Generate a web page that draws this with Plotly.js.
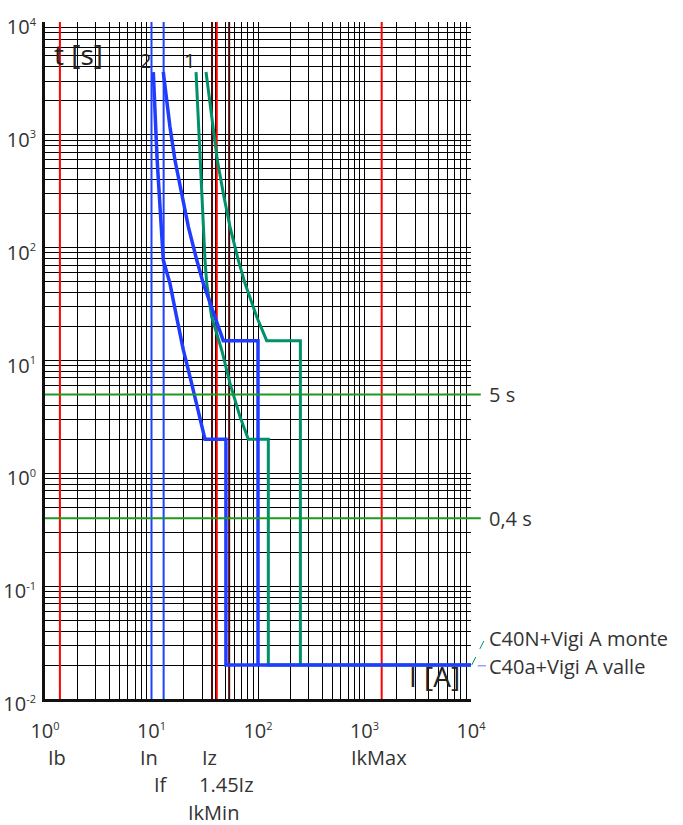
<!DOCTYPE html>
<html>
<head>
<meta charset="utf-8">
<script src="https://cdn.plot.ly/plotly-3.0.1.min.js"></script>
<style>html,body{margin:0;padding:0;background:#fff;}#chart{width:683px;height:825px;}</style>
</head>
<body>
<div id="chart"></div>
<script>
// ---- data ----
// curve 1 : C40N + Vigi A (monte), green
const greenMinI = [26.2, 28.5, 31.8, 33.0, 36.7, 45.6, 54.6, 67.8, 81.1, 125, 125, 10000];
const greenMinT = [3600, 598, 77.6, 48.3, 24.4, 12.4, 6.26, 3.17, 2, 2, 0.02, 0.02];
const greenMaxI = [32.5, 37.6, 41.5, 47.2, 54.6, 65.3, 75.5, 97.2, 120.7, 250, 250];
const greenMaxT = [3600, 1180, 598, 303, 153, 77.6, 48.3, 24.4, 15, 15, 0.02];
// curve 2 : C40a + Vigi A (valle), blue
const blueMinI = [10.4, 11.3, 12.9, 14.9, 17.2, 19.9, 23.8, 28.5, 31.8, 50, 50, 10000];
const blueMinT = [3600, 598, 77.6, 48.3, 24.4, 12.4, 6.26, 3.17, 2, 2, 0.02, 0.02];
const blueMaxI = [12.9, 14.9, 16.6, 19.2, 22.2, 26.6, 30.6, 39.4, 47.2, 100, 100];
const blueMaxT = [3600, 1180, 598, 303, 153, 77.6, 48.3, 24.4, 15, 15, 0.02];

// vertical reference currents
const refNames  = ['Ib', 'In', 'If', 'Iz', '1.45Iz', 'IkMin', 'IkMax'];
const refValues = [1.38, 10, 13, 37, 53.6, 41, 1450];
const refColors = ['#ff0000', '#1f40ff', '#1f40ff', '#4a0808', '#4a0808', '#ff0000', '#ff0000'];
const refRows   = [0, 0, 1, 0, 1, 2, 0];

// horizontal reference times
const timeNames  = ['5 s', '0,4 s'];
const timeValues = [5, 0.4];

// axis ticks
const xTickVals = [1, 10, 100, 1000, 10000];
const xTickExp  = ['0', '1', '2', '3', '4'];
const yTickVals = [0.01, 0.1, 1, 10, 100, 1000, 10000];
const yTickExp  = ['-2', '-1', '0', '1', '2', '3', '4'];

const legendNames = ['C40N+Vigi A monte', 'C40a+Vigi A valle'];

// ---- build ----
const GREEN = '#00906a', BLUE = '#1f3cff';
const expText = e => '10<sup><span style="font-size:11px">' + e + '</span></sup>';
const traces = [];
refValues.forEach((v, i) => {
  traces.push({x: [v, v], y: [0.01, 10000], mode: 'lines', line: {color: refColors[i], width: 2}, hoverinfo: 'skip', showlegend: false});
});
[[greenMinI, greenMinT], [greenMaxI, greenMaxT]].forEach(([xi, yi]) => {
  traces.push({x: xi, y: yi, mode: 'lines', line: {color: GREEN, width: 3}, showlegend: false});
});
[[blueMinI, blueMinT], [blueMaxI, blueMaxT]].forEach(([xi, yi]) => {
  traces.push({x: xi, y: yi, mode: 'lines', line: {color: BLUE, width: 3.5}, showlegend: false});
});

const FONT = 'Open Sans, Noto Sans, sans-serif';
const TXT = '#333';
const annotations = [];
const rowY = [-0.086, -0.127, -0.167];
refNames.forEach((n, i) => {
  annotations.push({xref: 'x', yref: 'paper', x: Math.log10(refValues[i]), y: rowY[refRows[i]], text: n,
    showarrow: false, xanchor: 'center', yanchor: 'middle', xshift: -3, font: {family: FONT, size: 20, color: TXT}});
});
timeNames.forEach((n, i) => {
  annotations.push({xref: 'paper', yref: 'y', x: 1.0376, y: Math.log10(timeValues[i]), text: n,
    showarrow: false, xanchor: 'left', yanchor: 'middle', font: {family: FONT, size: 20, color: TXT}});
});
annotations.push({xref: 'paper', yref: 'paper', x: 1.0376, y: 0.0901, text: legendNames[0], showarrow: false, xanchor: 'left', yanchor: 'middle', font: {family: FONT, size: 20, color: TXT}});
annotations.push({xref: 'paper', yref: 'paper', x: 1.0376, y: 0.0473, text: legendNames[1], showarrow: false, xanchor: 'left', yanchor: 'middle', font: {family: FONT, size: 20, color: TXT}});
annotations.push({xref: 'paper', yref: 'paper', x: 0.0164, y: 0.953, text: 't [s]', showarrow: false, xanchor: 'left', yanchor: 'middle', font: {family: FONT, size: 28, color: '#222'}});
annotations.push({xref: 'paper', yref: 'paper', x: 0.979, y: 0.034, text: 'I [A]', showarrow: false, xanchor: 'right', yanchor: 'middle', font: {family: FONT, size: 28, color: '#222'}});
annotations.push({xref: 'paper', yref: 'paper', x: (145 - 45) / 426, y: (699 - 60) / 677, text: '2', showarrow: false, xanchor: 'center', yanchor: 'middle', font: {family: FONT, size: 20, color: '#222'}});
annotations.push({xref: 'paper', yref: 'paper', x: (189 - 45) / 426, y: (699 - 60) / 677, text: '1', showarrow: false, xanchor: 'center', yanchor: 'middle', font: {family: FONT, size: 20, color: '#222'}});

const shapes = [];
timeValues.forEach(v => {
  shapes.push({type: 'line', xref: 'paper', yref: 'y', x0: 0, x1: 1.023, y0: v, y1: v, line: {color: '#1e9a1e', width: 2}});
});
shapes.push({type: 'line', xref: 'paper', yref: 'paper', x0: 1.0017, y0: 0.0502, x1: 1.0352, y1: 0.0920, line: {color: GREEN, width: 1, dash: 'dash'}});
shapes.push({type: 'line', xref: 'paper', yref: 'paper', x0: 1.0157, y0: 0.0490, x1: 1.0352, y1: 0.0490, line: {color: '#5a78ff', width: 1}});

const axisCommon = {
  type: 'log', showgrid: true, gridcolor: '#000', gridwidth: 1, zeroline: false,
  showline: true, linecolor: '#111', linewidth: 3, ticks: '', tickmode: 'array',
  minor: {dtick: 'D1', showgrid: true, gridcolor: '#000', gridwidth: 1, ticks: ''},
  tickfont: {family: FONT, size: 20, color: TXT}
};

const layout = {
  width: 683, height: 825,
  margin: {l: 45, r: 212, t: 22, b: 126},
  paper_bgcolor: '#fff', plot_bgcolor: '#fff',
  showlegend: false,
  xaxis: Object.assign({}, axisCommon, {range: [0, 4], tickvals: xTickVals, ticktext: xTickExp.map(expText), ticklabelstandoff: 12}),
  yaxis: Object.assign({}, axisCommon, {range: [-2, 4], tickvals: yTickVals, ticktext: yTickExp.map(expText), ticklabelstandoff: 2, ticklabelshift: 5}),
  annotations: annotations,
  shapes: shapes
};

Plotly.newPlot('chart', traces, layout, {staticPlot: true, displayModeBar: false});
</script>
</body>
</html>
